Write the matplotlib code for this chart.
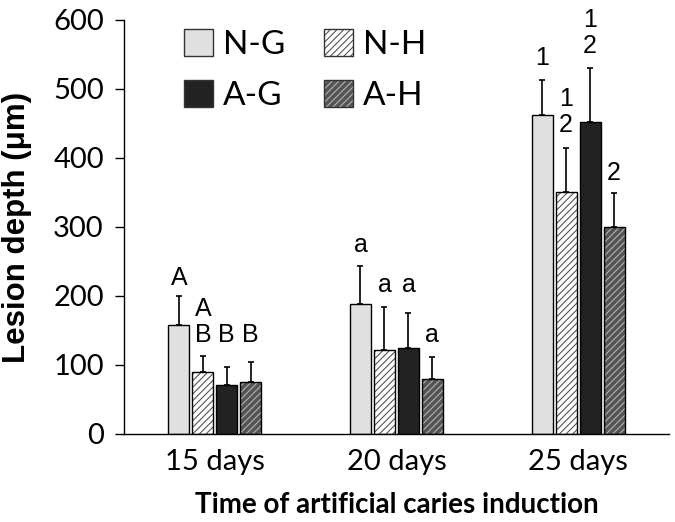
import matplotlib.pyplot as plt
import numpy as np

# Lesion depth (um) per group, mean and upper SD
groups = ['15 days', '20 days', '25 days']
series = ['N-G', 'N-H', 'A-G', 'A-H']
means = {
    'N-G': [158, 188, 463],
    'N-H': [90, 122, 351],
    'A-G': [71, 125, 452],
    'A-H': [75, 80, 300],
}
sds = {
    'N-G': [42, 55, 50],
    'N-H': [23, 62, 63],
    'A-G': [26, 50, 78],
    'A-H': [29, 32, 49],
}
# significance letters and the height their baseline sits at
letters = {
    'N-G': ['A', 'a', '1'],
    'N-H': ['A\nB', 'a', '1\n2'],
    'A-G': ['B', 'a', '1\n2'],
    'A-H': ['B', 'a', '2'],
}
letter_y = {
    'N-G': [216, 264, 535],
    'N-H': [133, 206, 438],
    'A-G': [133, 206, 552],
    'A-H': [133, 133, 368],
}

styles = {
    'N-G': dict(face='#e0e0e0', hatch=None, hcolor=None),
    'N-H': dict(face='white', hatch='/////', hcolor='#555555'),
    'A-G': dict(face='#222222', hatch=None, hcolor=None),
    'A-H': dict(face='#555555', hatch='/////', hcolor='#b0b0b0'),
}

plt.rcParams['hatch.linewidth'] = 0.8

fig = plt.figure(figsize=(6.75, 5.22), dpi=100)
ax = fig.add_axes([0.1837, 0.1686, 0.8073, 0.7931])

x = np.arange(len(groups))
width = 0.116
step = 0.132
handles = {}
for k, s in enumerate(series):
    st = styles[s]
    xs = x + (k - 1.5) * step
    if st['hatch']:
        ax.bar(xs, means[s], width, color=st['face'], hatch=st['hatch'],
               edgecolor=st['hcolor'], linewidth=0, zorder=2)
    else:
        ax.bar(xs, means[s], width, color=st['face'], linewidth=0, zorder=2)
    ax.bar(xs, means[s], width, fill=False, edgecolor='black', linewidth=1.0, zorder=3)
    ax.errorbar(xs, means[s], yerr=[np.zeros(3), sds[s]], fmt='none',
                ecolor='black', elinewidth=1.2, capsize=2, capthick=1.2, zorder=1)
    for i in range(len(groups)):
        ax.text(xs[i], letter_y[s][i], letters[s][i], ha='center', va='baseline',
                fontsize=18, family='Liberation Sans', linespacing=1.1)
    fill = plt.Rectangle((0, 0), 1, 1, facecolor=st['face'], hatch=st['hatch'],
                         edgecolor=st['hcolor'] if st['hatch'] else st['face'], linewidth=0)
    outline = plt.Rectangle((0, 0), 1, 1, fill=False, edgecolor='#333333', linewidth=1.0)
    handles[s] = (fill, outline)

# legend fills column by column: N-G / A-G on the left, N-H / A-H on the right
order = ['N-G', 'A-G', 'N-H', 'A-H']
leg = ax.legend([handles[s] for s in order], order, ncol=2, loc='upper left',
                bbox_to_anchor=(0.055, 1.05), frameon=False,
                prop={'family': 'Lato', 'size': 24},
                handlelength=0.87, handleheight=0.87, handletextpad=0.3,
                columnspacing=1.15, labelspacing=0.6)

ax.set_xlim(-0.5, 2.5)
ax.set_ylim(0, 600)
ax.set_yticks(np.arange(0, 601, 100))
ax.set_xticks(x)
ax.set_xticklabels(groups)
ax.tick_params(axis='x', length=0, pad=11)
ax.tick_params(axis='y', length=6.5, width=1.0, direction='out', pad=8)
for lab in ax.get_xticklabels() + ax.get_yticklabels():
    lab.set_family('Lato')
    lab.set_fontsize(21)
ax.spines['top'].set_visible(False)
ax.spines['right'].set_visible(False)
ax.spines['left'].set_linewidth(1.0)
ax.spines['bottom'].set_linewidth(1.0)

ax.set_xlabel('Time of artificial caries induction', family='Lato', fontweight='bold',
              fontsize=20, labelpad=12)
ax.set_ylabel('Lesion depth (\u03bcm)', family='Liberation Sans', fontweight='bold',
              fontsize=22.5, labelpad=15)

fig.savefig('out.png', dpi=100)
